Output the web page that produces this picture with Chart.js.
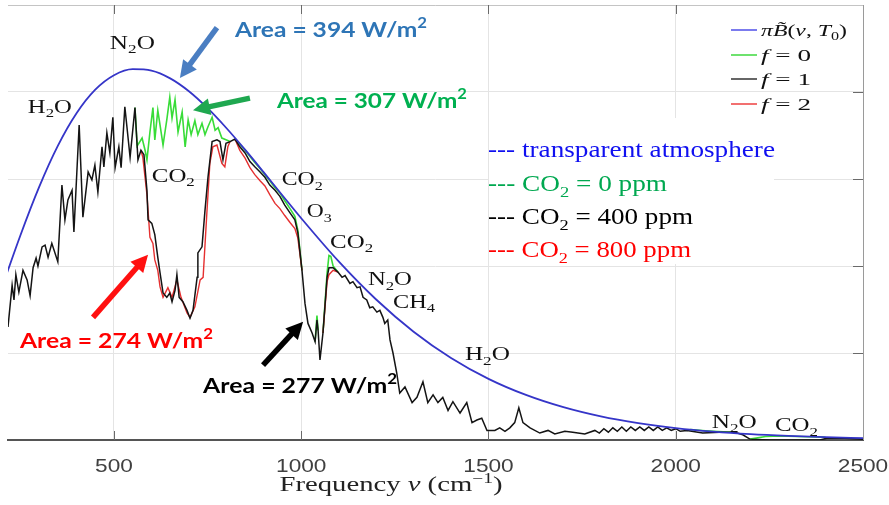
<!DOCTYPE html>
<html><head><meta charset="utf-8">
<script src="https://cdn.jsdelivr.net/npm/chart.js@4.4.1/dist/chart.umd.min.js"></script>
<style>html,body{margin:0;padding:0;background:#fff}#wrap{width:889px;height:505px;position:relative}</style>
</head><body><div id="wrap"><canvas id="c"></canvas></div>
<script>
// ---------- data (frequency in cm^-1, spectral flux in W/m^2 per cm^-1) ----------
const xTicks = [500, 1000, 1500, 2000, 2500];
const yTicks = [0, 0.1, 0.2, 0.3, 0.4, 0.5];

const planckNu  = [200,250,300,350,400,450,500,550,600,650,700,750,800,850,900,950,1000,1100,1200,1300,1400,1500,1600,1700,1800,1900,2000,2100,2200,2300,2400,2500];
const planckRad = [0.1744,0.2351,0.2906,0.3380,0.3755,0.4026,0.4192,0.4262,0.4246,0.4157,0.4009,0.3814,0.3586,0.3337,0.3076,0.2811,0.2549,0.2053,0.1615,0.1245,0.0943,0.0703,0.0518,0.0377,0.0271,0.0194,0.0137,0.0096,0.0067,0.0047,0.0032,0.0022];

// f = 1 (CO2 = 400 ppm)
const f1Nu  = [217,228,233,238,246,257,268,276,284,292,297,308,316,324,334,350,361,369,377,388,393,407,417,431,441,449,457,468,473,481,489,497,503,513,519,529,543,556,564,572,580,588,591,601,609,617,623,631,641,649,655,663,668,674,684,695,703,711,722,724,735,743,751,762,775,783,791,799,810,823,836,850,863,876,890,903,916,930,943,956,970,983,991,1002,1010,1018,1029,1037,1042,1045,1050,1058,1069,1074,1085,1098,1109,1117,1130,1138,1149,1157,1165,1175,1183,1191,1202,1210,1218,1223,1231,1237,1245,1255,1263,1277,1296,1309,1325,1338,1352,1365,1378,1392,1405,1424,1442,1456,1469,1482,1496,1517,1530,1544,1557,1570,1581,1592,1611,1637,1659,1677,1704,1725,1757,1784,1796,1808,1820,1832,1844,1856,1868,1880,1892,1904,1916,1928,1940,1952,1964,1976,1988,2000,2012,2030,2072,2118,2158,2179,2198,2251,2305,2385,2403,2451,2500];
const f1Rad = [0.130,0.178,0.161,0.190,0.170,0.195,0.184,0.166,0.198,0.209,0.200,0.222,0.224,0.210,0.226,0.205,0.293,0.253,0.276,0.287,0.239,0.362,0.256,0.308,0.299,0.316,0.285,0.337,0.314,0.353,0.330,0.371,0.313,0.337,0.313,0.383,0.325,0.382,0.322,0.333,0.328,0.287,0.253,0.249,0.236,0.210,0.192,0.169,0.164,0.169,0.159,0.172,0.190,0.164,0.159,0.149,0.140,0.149,0.187,0.215,0.222,0.264,0.302,0.343,0.345,0.343,0.322,0.341,0.343,0.346,0.337,0.330,0.320,0.314,0.308,0.302,0.293,0.287,0.280,0.270,0.261,0.253,0.238,0.195,0.157,0.134,0.123,0.113,0.138,0.126,0.092,0.123,0.187,0.198,0.198,0.193,0.187,0.189,0.180,0.182,0.175,0.176,0.164,0.161,0.152,0.153,0.147,0.149,0.141,0.134,0.138,0.115,0.100,0.077,0.054,0.061,0.043,0.049,0.067,0.043,0.052,0.043,0.049,0.034,0.044,0.031,0.043,0.020,0.023,0.025,0.011,0.011,0.014,0.010,0.014,0.020,0.037,0.020,0.014,0.008,0.011,0.007,0.010,0.009,0.007,0.011,0.008,0.013,0.009,0.014,0.010,0.015,0.010,0.015,0.011,0.015,0.011,0.015,0.011,0.015,0.011,0.014,0.011,0.013,0.010,0.011,0.008,0.009,0.009,0.006,0.001,0.000,0.000,0.000,0.002,0.002,0.001];

// f = 0 (CO2 = 0 ppm): pieces that differ from f = 1
const f0BandNu  = [562,575,583,588,596,604,609,617,623,631,641,649,655,663,671,682,690,698,706,716,724,735,743,751,762,770,778,788,799];
const f0BandRad = [0.338,0.347,0.333,0.322,0.354,0.382,0.345,0.379,0.362,0.339,0.368,0.394,0.370,0.391,0.354,0.377,0.337,0.368,0.351,0.367,0.351,0.364,0.351,0.360,0.371,0.356,0.359,0.347,0.345];
const f0WingNu  = [836,850,863,876,890,903,916,930,943,956,970,983,991];
const f0WingRad = [0.340,0.333,0.326,0.319,0.312,0.305,0.298,0.290,0.284,0.275,0.266,0.257,0.241];
const f0SpikeNu  = [1037,1042,1045];
const f0SpikeRad = [0.113,0.143,0.126];
const f0BumpNu  = [1069,1074,1079,1085];
const f0BumpRad = [0.192,0.212,0.211,0.200];
const f0N2oNu  = [2040,2070,2100,2140];
const f0N2oRad = [0.012,0.011,0.010,0.009];
const f0TailNu  = [2240,2260,2300,2350,2398];
const f0TailRad = [0.0040,0.0045,0.0043,0.0038,0.0032];

// f = 2 (CO2 = 800 ppm): pieces that differ from f = 1
const f2BandNu  = [572,577,588,596,604,609,617,623,631,644,655,668,679,695,703,716,730,738,748,756,764,775,788,796,804];
const f2BandRad = [0.333,0.325,0.282,0.233,0.226,0.207,0.195,0.176,0.164,0.175,0.164,0.184,0.164,0.146,0.141,0.153,0.184,0.187,0.261,0.318,0.337,0.339,0.318,0.314,0.337];
const f2WingNu  = [836,850,863,876,890,903,916,930,943,956,970,983,991];
const f2WingRad = [0.333,0.324,0.313,0.305,0.298,0.292,0.282,0.272,0.266,0.258,0.250,0.243,0.232];
const f2BumpNu  = [1069,1074,1085];
const f2BumpRad = [0.182,0.190,0.195];

// ---------- helpers ----------
function pts(nu, rad){ return nu.map((x,i)=>({x:x, y:rad[i]})); }
function spliceSeg(baseNu, baseRad, segs){
  let p = pts(baseNu, baseRad);
  for (const [sn, sr] of segs){
    const lo = sn[0], hi = sn[sn.length-1];
    p = p.filter(q => q.x < lo || q.x > hi).concat(pts(sn, sr));
  }
  return p.sort((a,b)=>a.x-b.x);
}
const f0Data = spliceSeg(f1Nu, f1Rad, [[f0BandNu,f0BandRad],[f0WingNu,f0WingRad],[f0SpikeNu,f0SpikeRad],[f0BumpNu,f0BumpRad],[f0N2oNu,f0N2oRad],[f0TailNu,f0TailRad]]);
const f2Data = spliceSeg(f1Nu, f1Rad, [[f2BandNu,f2BandRad],[f2WingNu,f2WingRad],[f2BumpNu,f2BumpRad]]);
const f1Map = new Map(f1Nu.map((x,i)=>[x, f1Rad[i]]));
const sameAsF1 = p => p && f1Map.has(p.x) && f1Map.get(p.x) === p.y;
// segments where a curve coincides with f = 1 are hidden under it (as in the original)
const diffColor = (color, data) => c => (sameAsF1(data[c.p0DataIndex]) && sameAsF1(data[c.p1DataIndex])) ? 'rgba(0,0,0,0)' : color;

const SERIF = '"Liberation Serif", "DejaVu Serif", serif';
const SANS = '"Liberation Sans", Arial, sans-serif';
const BOLD = 'Lato, "Open Sans", sans-serif';

function rich(ctx, parts, x, y, o){
  const fontFor = t => {
    const s = (t==='sub'||t==='sup') ? o.size*0.68 : o.size;
    const st = (t==='it'||o.italic) ? 'italic' : 'normal';
    return st+' '+(o.weight||'normal')+' '+s+'px '+o.family;
  };
  let w = 0;
  for (const [txt,t] of parts){ ctx.font = fontFor(t); w += ctx.measureText(txt).width; }
  const sx = o.width ? o.width / w : 1;
  const tw = w*sx;
  let x0 = x;
  if (o.align==='center') x0 = x - tw/2;
  ctx.save();
  ctx.translate(x0, y); ctx.scale(sx, 1);
  ctx.fillStyle = o.color; ctx.textBaseline = 'alphabetic'; ctx.textAlign = 'left';
  let cx = 0;
  for (const [txt,t] of parts){
    ctx.font = fontFor(t);
    const dy = t==='sub' ? o.size*0.24 : (t==='sup' ? -o.size*0.42 : 0);
    ctx.fillText(txt, cx, dy);
    cx += ctx.measureText(txt).width;
  }
  ctx.restore();
}
function arrow(ctx, x1, y1, x2, y2, color, lw, hl, hw){
  const dx = x2-x1, dy = y2-y1, L = Math.hypot(dx,dy), ux = dx/L, uy = dy/L;
  const bx = x2-ux*hl, by = y2-uy*hl;
  ctx.save();
  ctx.strokeStyle = color; ctx.fillStyle = color; ctx.lineWidth = lw; ctx.lineCap = 'butt';
  ctx.beginPath(); ctx.moveTo(x1,y1); ctx.lineTo(bx+ux*1,by+uy*1); ctx.stroke();
  ctx.beginPath(); ctx.moveTo(x2,y2); ctx.lineTo(bx-uy*hw/2, by+ux*hw/2); ctx.lineTo(bx+uy*hw/2, by-ux*hw/2); ctx.closePath(); ctx.fill();
  ctx.restore();
}

// annotations placed in data coordinates (nu, flux)
const molLabels = [
  {t:[['N','n'],['2','sub'],['O','n']], nu:489, v:0.450, w:45},
  {t:[['H','n'],['2','sub'],['O','n']], nu:270, v:0.376, w:44},
  {t:[['CO','n'],['2','sub']], nu:601, v:0.297, w:43},
  {t:[['CO','n'],['2','sub']], nu:948, v:0.293, w:41},
  {t:[['O','n'],['3','sub']], nu:1015, v:0.256, w:25},
  {t:[['CO','n'],['2','sub']], nu:1077, v:0.221, w:43},
  {t:[['N','n'],['2','sub'],['O','n']], nu:1178, v:0.178, w:44},
  {t:[['CH','n'],['4','sub']], nu:1245, v:0.152, w:42},
  {t:[['H','n'],['2','sub'],['O','n']], nu:1437, v:0.092, w:45},
  {t:[['N','n'],['2','sub'],['O','n']], nu:2096, v:0.014, w:45},
  {t:[['CO','n'],['2','sub']], nu:2265, v:0.010, w:43},
];
const areaLabels = [
  {t:'Area = 394 W/m', nu:823, v:0.463, w:192, c:'#2e75b6'},
  {t:'Area = 307 W/m', nu:935, v:0.382, w:190, c:'#00b050'},
  {t:'Area = 274 W/m', nu:249, v:0.106, w:193, c:'#ff0000'},
  {t:'Area = 277 W/m', nu:738, v:0.054, w:194, c:'#000000'},
];
const arrows = [
  {from:[775,0.474], to:[676,0.416], c:'#4a7ec2'},
  {from:[863,0.393], to:[711,0.379], c:'#1fa850'},
  {from:[444,0.141], to:[591,0.213], c:'#ff1010'},
  {from:[898,0.086], to:[1005,0.136], c:'#000000'},
];

const decor = {
  id:'decor',
  beforeDatasetsDraw(chart){
    const {ctx} = chart;
    ctx.save();
    ctx.fillStyle = '#ffffff';
    ctx.fillRect(489, 118, 285, 146);
    ctx.restore();
  },
  afterDatasetsDraw(chart){
    const {ctx, chartArea:a, scales:{x, y}} = chart;
    const X = v => x.getPixelForValue(v), Y = v => y.getPixelForValue(v);
    ctx.save();
    // frame: top and right borders
    ctx.strokeStyle = '#c4c4c4'; ctx.lineWidth = 1;
    ctx.beginPath(); ctx.moveTo(a.left, a.top+0.5); ctx.lineTo(a.right, a.top+0.5); ctx.stroke();
    ctx.strokeStyle = '#9a9a9a';
    ctx.beginPath(); ctx.moveTo(a.right+0.5, a.top); ctx.lineTo(a.right+0.5, a.bottom); ctx.stroke();
    // inward tick marks
    ctx.strokeStyle = '#6a6a6a'; ctx.lineWidth = 1;
    for (const t of xTicks){
      if (t>=2500) continue;
      const px = Math.round(X(t))+0.5;
      ctx.beginPath(); ctx.moveTo(px, a.top); ctx.lineTo(px, a.top+9); ctx.stroke();
      ctx.beginPath(); ctx.moveTo(px, a.bottom); ctx.lineTo(px, a.bottom-9); ctx.stroke();
    }
    for (const t of yTicks){
      if (t<=0 || t>=0.5) continue;
      const py = Math.round(Y(t))+0.5;
      ctx.beginPath(); ctx.moveTo(a.right, py); ctx.lineTo(a.right-10, py); ctx.stroke();
    }
    // tick labels
    for (const t of xTicks){
      const s = String(t);
      rich(ctx, [[s,'n']], X(t), a.bottom+32, {family:SANS, size:18, color:'#404040', width: s.length*12.6, align:'center'});
    }
    // axis title
    rich(ctx, [['Frequency ','n'],['\u03bd','it'],[' (cm','n'],['\u22121','sup'],[')','n']], 391, 491, {family:SERIF, size:20, color:'#222', width:223, align:'center'});
    // molecule labels
    for (const m of molLabels){
      rich(ctx, m.t, X(m.nu), Y(m.v), {family:SERIF, size:19, color:'#111', width:m.w});
    }
    // arrows
    for (const ar of arrows){
      arrow(ctx, X(ar.from[0]), Y(ar.from[1]), X(ar.to[0]), Y(ar.to[1]), ar.c, 5.5, 17, 17);
    }
    // area labels
    for (const l of areaLabels){
      rich(ctx, [[l.t,'n'],['2','sup']], X(l.nu), Y(l.v), {family:BOLD, size:21, weight:'bold', color:l.c, width:l.w});
    }
    // math legend (top right)
    const leg = [
      {c:'#4f4fe8', t:[['\u03c0','it'],['B\u0303','it'],['(','n'],['\u03bd','it'],[', ','n'],['T','it'],['0','sub'],[')','n']], w:86},
      {c:'#3ed83e', t:[['f','it'],[' = 0','n']], w:50},
      {c:'#333333', t:[['f','it'],[' = 1','n']], w:50},
      {c:'#ee4040', t:[['f','it'],[' = 2','n']], w:50},
    ];
    const ly = [30, 55, 79, 104];
    leg.forEach((l,i)=>{
      ctx.strokeStyle = l.c; ctx.lineWidth = 1.5;
      ctx.beginPath(); ctx.moveTo(731, ly[i]); ctx.lineTo(757, ly[i]); ctx.stroke();
      rich(ctx, l.t, 761, ly[i]+6, {family:SERIF, size:17, color:'#111', width:l.w});
    });
    // text legend
    const tl = [
      {c:'#1010f0', t:[['--- transparent atmosphere','n']], w:287, y:157},
      {c:'#00a850', t:[['--- CO','n'],['2','sub'],[' = 0 ppm','n']], w:179, y:191},
      {c:'#000000', t:[['--- CO','n'],['2','sub'],[' = 400 ppm','n']], w:205, y:224},
      {c:'#ff0000', t:[['--- CO','n'],['2','sub'],[' = 800 ppm','n']], w:203, y:257},
    ];
    for (const l of tl){
      rich(ctx, l.t, 488, l.y, {family:SERIF, size:23, color:l.c, width:l.w});
    }
    ctx.restore();
  }
};

new Chart(document.getElementById('c'), {
  type: 'line',
  data: { datasets: [
    {label:'pi B(nu,T0)', data: pts(planckNu, planckRad), borderColor:'#3535c8', borderWidth:1.8, pointRadius:0, cubicInterpolationMode:'monotone', order:0},
    {label:'f = 1', data: pts(f1Nu, f1Rad), borderColor:'#141414', borderWidth:1.5, pointRadius:0, tension:0, order:1},
    {label:'f = 2', data: f2Data, borderColor:'#e53030', borderWidth:1.4, pointRadius:0, tension:0, order:2,
      segment:{ borderColor: diffColor('#e53030', f2Data) }},
    {label:'f = 0', data: f0Data, borderColor:'#38dc38', borderWidth:1.6, pointRadius:0, tension:0, order:3,
      segment:{ borderColor: diffColor('#38dc38', f0Data) }},
  ]},
  options: {
    responsive: true, maintainAspectRatio: false, animation: false,
    layout: { padding: { left: 8, right: 26, top: 5, bottom: 0 } },
    plugins: { legend: { display: false }, tooltip: { enabled: false } },
    scales: {
      x: {
        type: 'linear', min: 217, max: 2500,
        afterBuildTicks: s => { s.ticks = xTicks.map(v => ({value: v})); },
        afterFit: s => { s.height = 65; },
        ticks: { display: false },
        grid: { color: '#e4e4e4', drawTicks: false },
        border: { display: true, color: '#555555', width: 2 }
      },
      y: {
        min: 0, max: 0.5,
        afterBuildTicks: s => { s.ticks = yTicks.map(v => ({value: v})); },
        afterFit: s => { s.width = 0; },
        ticks: { display: false },
        grid: { color: '#e4e4e4', drawTicks: false },
        border: { display: false }
      }
    }
  },
  plugins: [decor]
});
</script>
</body></html>
